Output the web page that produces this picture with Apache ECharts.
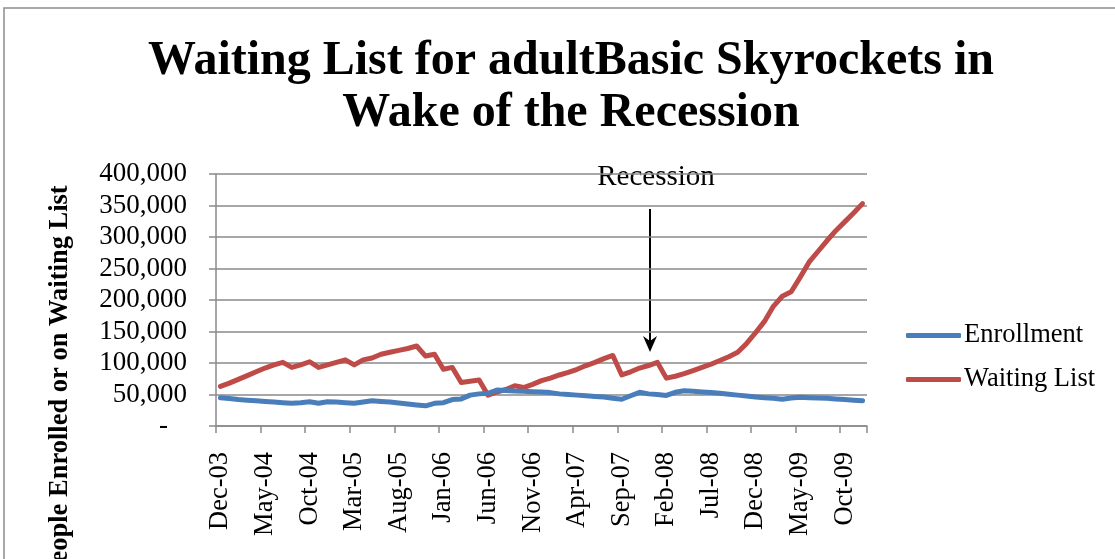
<!DOCTYPE html>
<html>
<head>
<meta charset="utf-8">
<script src="https://cdn.jsdelivr.net/npm/echarts@6/dist/echarts.min.js"></script>
<style>
  html, body { margin: 0; padding: 0; background: #fff; }
  #chart { width: 1115px; height: 559px; }
</style>
</head>
<body>
<div id="chart"></div>
<script>
const months = [
  'Dec-03',
  'Jan-04', 'Feb-04', 'Mar-04', 'Apr-04', 'May-04', 'Jun-04', 'Jul-04', 'Aug-04', 'Sep-04', 'Oct-04', 'Nov-04', 'Dec-04',
  'Jan-05', 'Feb-05', 'Mar-05', 'Apr-05', 'May-05', 'Jun-05', 'Jul-05', 'Aug-05', 'Sep-05', 'Oct-05', 'Nov-05', 'Dec-05',
  'Jan-06', 'Feb-06', 'Mar-06', 'Apr-06', 'May-06', 'Jun-06', 'Jul-06', 'Aug-06', 'Sep-06', 'Oct-06', 'Nov-06', 'Dec-06',
  'Jan-07', 'Feb-07', 'Mar-07', 'Apr-07', 'May-07', 'Jun-07', 'Jul-07', 'Aug-07', 'Sep-07', 'Oct-07', 'Nov-07', 'Dec-07',
  'Jan-08', 'Feb-08', 'Mar-08', 'Apr-08', 'May-08', 'Jun-08', 'Jul-08', 'Aug-08', 'Sep-08', 'Oct-08', 'Nov-08', 'Dec-08',
  'Jan-09', 'Feb-09', 'Mar-09', 'Apr-09', 'May-09', 'Jun-09', 'Jul-09', 'Aug-09', 'Sep-09', 'Oct-09', 'Nov-09', 'Dec-09'
]

// values (people)
const enrollment = [
  45000, 43500, 42000, 41000, 40000, 39000, 38000, 37000,
  36000, 37000, 38500, 36000, 38500, 38000, 37000, 36000,
  38000, 40000, 39000, 38000, 36500, 35000, 33500, 32000,
  36000, 37000, 42000, 43000, 49000, 51000, 52000, 57000,
  56500, 55500, 55000, 54500, 54000, 53000, 51000, 50000,
  49000, 48000, 47000, 46000, 44000, 42500, 48000, 53500,
  51000, 50000, 48500, 53500, 56000, 55000, 54000, 53000,
  52000, 50500, 49000, 47500, 46000, 45000, 44000, 42500,
  44500, 45500, 45000, 44500, 44000, 43000, 42000, 41000, 40000
]

const waitingList = [
  63000, 68000, 74000, 80000, 86000, 92000, 97000, 101000,
  93000, 97000, 102000, 93000, 97000, 101000, 105000, 97000,
  105000, 108000, 114000, 117000, 120000, 123000, 127000, 111000,
  114000, 90000, 93000, 69000, 71000, 73000, 49000, 54000,
  58000, 64000, 61000, 66000, 72000, 76000, 81000, 85000,
  90000, 96000, 101000, 107000, 112000, 81000, 86000, 92000,
  96000, 101000, 76000, 79000, 83000, 88000, 93000, 98000,
  104000, 110000, 117000, 131000, 148000, 166000, 190000, 206000,
  213000, 236000, 260000, 277000, 294000, 310000, 324000, 338000, 353000
]

const titleText = 'Waiting List for adultBasic Skyrockets in\nWake of the Recession'
const yAxisTitle = 'People Enrolled or on Waiting List'
const annotation = 'Recession'

const serif = '"Liberation Serif", "Times New Roman", serif'
const gridGray = '#8a8a8a'

const chart = echarts.init(document.getElementById('chart'))

chart.setOption({
  backgroundColor: '#fff',
  animation: false,
  title: {
    text: titleText,
    left: 566,
    top: 31,
    textAlign: 'center',
    textStyle: { fontFamily: serif, fontSize: 48, fontWeight: 'bold', color: '#000', lineHeight: 52 },
  },
  legend: {
    orient: 'vertical',
    left: 901,
    top: 317,
    itemWidth: 55,
    itemHeight: 5,
    itemGap: 17,
    icon: 'roundRect',
    textStyle: { fontFamily: serif, fontSize: 26.5, color: '#000', padding: [0, 0, 0, -2] },
    data: ['Enrollment', 'Waiting List'],
  },
  grid: { left: 216, right: 248, top: 174, bottom: 133 },
  xAxis: {
    type: 'category',
    data: months,
    boundaryGap: true,
    axisLine: { lineStyle: { color: gridGray, width: 1.5 } },
    axisTick: { show: true, interval: 4, length: 7, lineStyle: { color: gridGray, width: 1.5 } },
    axisLabel: {
      interval: 4,
      rotate: 90,
      margin: 26,
      fontFamily: serif,
      fontSize: 26.5,
      color: '#000',
    },
    splitLine: { show: false },
  },
  yAxis: {
    type: 'value',
    min: 0,
    max: 400000,
    interval: 50000,
    axisLine: { show: true, lineStyle: { color: gridGray, width: 1.5 } },
    axisTick: { show: true, length: 7, lineStyle: { color: gridGray, width: 1.5 } },
    axisLabel: {
      margin: 29,
      fontFamily: serif,
      fontSize: 27,
      color: '#000',
      formatter: v => v === 0 ? '{d|-}' : v.toLocaleString('en-US'),
      rich: { d: { fontFamily: serif, fontSize: 27, color: '#000', padding: [0, 19, 0, 0] } },
    },
    splitLine: { show: true, lineStyle: { color: gridGray, width: 1.5 } },
  },
  series: [
    {
      name: 'Enrollment',
      type: 'line',
      data: enrollment,
      showSymbol: false,
      smooth: false,
      lineStyle: { width: 5, color: '#4a7ebb', cap: 'round', join: 'round' },
      itemStyle: { color: '#4a7ebb' },
      z: 3,
    },
    {
      name: 'Waiting List',
      type: 'line',
      data: waitingList,
      showSymbol: false,
      smooth: false,
      lineStyle: { width: 5, color: '#be4b48', cap: 'round', join: 'round' },
      itemStyle: { color: '#be4b48' },
      z: 2,
    },
  ],
  graphic: [
    {
      type: 'rect',
      shape: { x: 4, y: 8, width: 1200, height: 700 },
      style: { fill: 'none', stroke: '#8c8c8c', lineWidth: 1.5 },
      silent: true,
    },
    {
      type: 'text',
      x: 60,
      y: 382,
      rotation: Math.PI / 2,
      style: {
        text: yAxisTitle,
        fontFamily: serif,
        fontSize: 26.5,
        fontWeight: 'bold',
        fill: '#000',
        align: 'center',
        verticalAlign: 'middle',
      },
    },
    {
      type: 'text',
      x: 656,
      y: 177,
      style: {
        text: annotation,
        fontFamily: serif,
        fontSize: 29,
        fill: '#000',
        align: 'center',
        verticalAlign: 'middle',
      },
    },
    {
      type: 'line',
      shape: { x1: 650, y1: 209, x2: 650, y2: 342 },
      style: { stroke: '#000', lineWidth: 2 },
    },
    {
      type: 'polygon',
      shape: { points: [[643, 336], [650, 352], [657, 336], [650, 341]] },
      style: { fill: '#000' },
    },
  ],
})

window.addEventListener('resize', () => chart.resize())
</script>
</body>
</html>
